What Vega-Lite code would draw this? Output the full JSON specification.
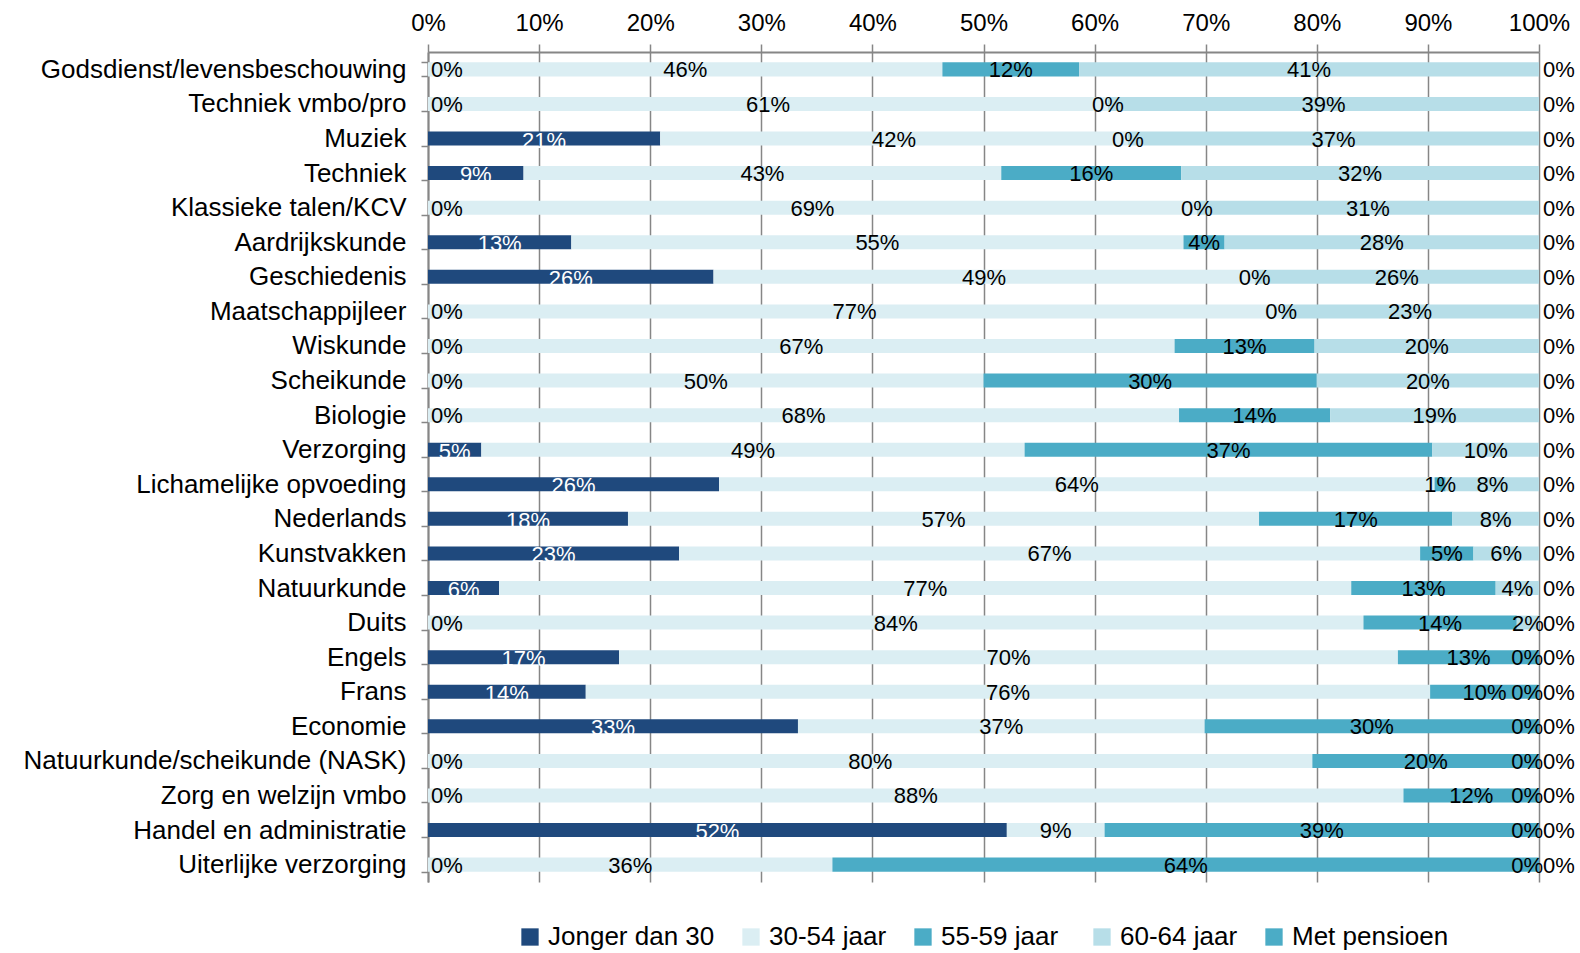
{
  "$schema": "https://vega.github.io/schema/vega-lite/v6.json",
  "autosize": {"type": "none"},
  "padding": {"left": 428, "top": 52, "right": 41, "bottom": 71},
  "width": 1111,
  "height": 830,
  "background": "white",
  "config": {
    "view": {"stroke": null},
    "font": "Liberation Sans",
    "text": {"font": "Liberation Sans"}
  },
  "data": {
    "values": [
      {"c": "Godsdienst/levensbeschouwing", "s": "Jonger dan 30", "v": 0},
      {"c": "Godsdienst/levensbeschouwing", "s": "30-54 jaar", "v": 46.3},
      {"c": "Godsdienst/levensbeschouwing", "s": "55-59  jaar", "v": 12.3},
      {"c": "Godsdienst/levensbeschouwing", "s": "60-64 jaar", "v": 41.4},
      {"c": "Godsdienst/levensbeschouwing", "s": "Met pensioen", "v": 0},
      {"c": "Techniek vmbo/pro", "s": "Jonger dan 30", "v": 0},
      {"c": "Techniek vmbo/pro", "s": "30-54 jaar", "v": 61.2},
      {"c": "Techniek vmbo/pro", "s": "55-59  jaar", "v": 0},
      {"c": "Techniek vmbo/pro", "s": "60-64 jaar", "v": 38.8},
      {"c": "Techniek vmbo/pro", "s": "Met pensioen", "v": 0},
      {"c": "Muziek", "s": "Jonger dan 30", "v": 20.9},
      {"c": "Muziek", "s": "30-54 jaar", "v": 42.1},
      {"c": "Muziek", "s": "55-59  jaar", "v": 0},
      {"c": "Muziek", "s": "60-64 jaar", "v": 37.0},
      {"c": "Muziek", "s": "Met pensioen", "v": 0},
      {"c": "Techniek", "s": "Jonger dan 30", "v": 8.6},
      {"c": "Techniek", "s": "30-54 jaar", "v": 43.0},
      {"c": "Techniek", "s": "55-59  jaar", "v": 16.2},
      {"c": "Techniek", "s": "60-64 jaar", "v": 32.2},
      {"c": "Techniek", "s": "Met pensioen", "v": 0},
      {"c": "Klassieke talen/KCV", "s": "Jonger dan 30", "v": 0},
      {"c": "Klassieke talen/KCV", "s": "30-54 jaar", "v": 69.2},
      {"c": "Klassieke talen/KCV", "s": "55-59  jaar", "v": 0},
      {"c": "Klassieke talen/KCV", "s": "60-64 jaar", "v": 30.8},
      {"c": "Klassieke talen/KCV", "s": "Met pensioen", "v": 0},
      {"c": "Aardrijkskunde", "s": "Jonger dan 30", "v": 12.9},
      {"c": "Aardrijkskunde", "s": "30-54 jaar", "v": 55.1},
      {"c": "Aardrijkskunde", "s": "55-59  jaar", "v": 3.7},
      {"c": "Aardrijkskunde", "s": "60-64 jaar", "v": 28.3},
      {"c": "Aardrijkskunde", "s": "Met pensioen", "v": 0},
      {"c": "Geschiedenis", "s": "Jonger dan 30", "v": 25.7},
      {"c": "Geschiedenis", "s": "30-54 jaar", "v": 48.7},
      {"c": "Geschiedenis", "s": "55-59  jaar", "v": 0},
      {"c": "Geschiedenis", "s": "60-64 jaar", "v": 25.6},
      {"c": "Geschiedenis", "s": "Met pensioen", "v": 0},
      {"c": "Maatschappijleer", "s": "Jonger dan 30", "v": 0},
      {"c": "Maatschappijleer", "s": "30-54 jaar", "v": 76.8},
      {"c": "Maatschappijleer", "s": "55-59  jaar", "v": 0},
      {"c": "Maatschappijleer", "s": "60-64 jaar", "v": 23.2},
      {"c": "Maatschappijleer", "s": "Met pensioen", "v": 0},
      {"c": "Wiskunde", "s": "Jonger dan 30", "v": 0},
      {"c": "Wiskunde", "s": "30-54 jaar", "v": 67.2},
      {"c": "Wiskunde", "s": "55-59  jaar", "v": 12.6},
      {"c": "Wiskunde", "s": "60-64 jaar", "v": 20.2},
      {"c": "Wiskunde", "s": "Met pensioen", "v": 0},
      {"c": "Scheikunde", "s": "Jonger dan 30", "v": 0},
      {"c": "Scheikunde", "s": "30-54 jaar", "v": 50.0},
      {"c": "Scheikunde", "s": "55-59  jaar", "v": 30.0},
      {"c": "Scheikunde", "s": "60-64 jaar", "v": 20.0},
      {"c": "Scheikunde", "s": "Met pensioen", "v": 0},
      {"c": "Biologie", "s": "Jonger dan 30", "v": 0},
      {"c": "Biologie", "s": "30-54 jaar", "v": 67.6},
      {"c": "Biologie", "s": "55-59  jaar", "v": 13.6},
      {"c": "Biologie", "s": "60-64 jaar", "v": 18.8},
      {"c": "Biologie", "s": "Met pensioen", "v": 0},
      {"c": "Verzorging", "s": "Jonger dan 30", "v": 4.8},
      {"c": "Verzorging", "s": "30-54 jaar", "v": 48.9},
      {"c": "Verzorging", "s": "55-59  jaar", "v": 36.7},
      {"c": "Verzorging", "s": "60-64 jaar", "v": 9.6},
      {"c": "Verzorging", "s": "Met pensioen", "v": 0},
      {"c": "Lichamelijke opvoeding", "s": "Jonger dan 30", "v": 26.2},
      {"c": "Lichamelijke opvoeding", "s": "30-54 jaar", "v": 64.4},
      {"c": "Lichamelijke opvoeding", "s": "55-59  jaar", "v": 1.0},
      {"c": "Lichamelijke opvoeding", "s": "60-64 jaar", "v": 8.4},
      {"c": "Lichamelijke opvoeding", "s": "Met pensioen", "v": 0},
      {"c": "Nederlands", "s": "Jonger dan 30", "v": 18.0},
      {"c": "Nederlands", "s": "30-54 jaar", "v": 56.8},
      {"c": "Nederlands", "s": "55-59  jaar", "v": 17.4},
      {"c": "Nederlands", "s": "60-64 jaar", "v": 7.8},
      {"c": "Nederlands", "s": "Met pensioen", "v": 0},
      {"c": "Kunstvakken", "s": "Jonger dan 30", "v": 22.6},
      {"c": "Kunstvakken", "s": "30-54 jaar", "v": 66.7},
      {"c": "Kunstvakken", "s": "55-59  jaar", "v": 4.8},
      {"c": "Kunstvakken", "s": "60-64 jaar", "v": 5.9},
      {"c": "Kunstvakken", "s": "Met pensioen", "v": 0},
      {"c": "Natuurkunde", "s": "Jonger dan 30", "v": 6.4},
      {"c": "Natuurkunde", "s": "30-54 jaar", "v": 76.7},
      {"c": "Natuurkunde", "s": "55-59  jaar", "v": 13.0},
      {"c": "Natuurkunde", "s": "60-64 jaar", "v": 3.9},
      {"c": "Natuurkunde", "s": "Met pensioen", "v": 0},
      {"c": "Duits", "s": "Jonger dan 30", "v": 0},
      {"c": "Duits", "s": "30-54 jaar", "v": 84.2},
      {"c": "Duits", "s": "55-59  jaar", "v": 13.8},
      {"c": "Duits", "s": "60-64 jaar", "v": 2.0},
      {"c": "Duits", "s": "Met pensioen", "v": 0},
      {"c": "Engels", "s": "Jonger dan 30", "v": 17.2},
      {"c": "Engels", "s": "30-54 jaar", "v": 70.1},
      {"c": "Engels", "s": "55-59  jaar", "v": 12.7},
      {"c": "Engels", "s": "60-64 jaar", "v": 0},
      {"c": "Engels", "s": "Met pensioen", "v": 0},
      {"c": "Frans", "s": "Jonger dan 30", "v": 14.2},
      {"c": "Frans", "s": "30-54 jaar", "v": 76.0},
      {"c": "Frans", "s": "55-59  jaar", "v": 9.8},
      {"c": "Frans", "s": "60-64 jaar", "v": 0},
      {"c": "Frans", "s": "Met pensioen", "v": 0},
      {"c": "Economie", "s": "Jonger dan 30", "v": 33.3},
      {"c": "Economie", "s": "30-54 jaar", "v": 36.6},
      {"c": "Economie", "s": "55-59  jaar", "v": 30.1},
      {"c": "Economie", "s": "60-64 jaar", "v": 0},
      {"c": "Economie", "s": "Met pensioen", "v": 0},
      {"c": "Natuurkunde/scheikunde  (NASK)", "s": "Jonger dan 30", "v": 0},
      {"c": "Natuurkunde/scheikunde  (NASK)", "s": "30-54 jaar", "v": 79.6},
      {"c": "Natuurkunde/scheikunde  (NASK)", "s": "55-59  jaar", "v": 20.4},
      {"c": "Natuurkunde/scheikunde  (NASK)", "s": "60-64 jaar", "v": 0},
      {"c": "Natuurkunde/scheikunde  (NASK)", "s": "Met pensioen", "v": 0},
      {"c": "Zorg en welzijn vmbo", "s": "Jonger dan 30", "v": 0},
      {"c": "Zorg en welzijn vmbo", "s": "30-54 jaar", "v": 87.8},
      {"c": "Zorg en welzijn vmbo", "s": "55-59  jaar", "v": 12.2},
      {"c": "Zorg en welzijn vmbo", "s": "60-64 jaar", "v": 0},
      {"c": "Zorg en welzijn vmbo", "s": "Met pensioen", "v": 0},
      {"c": "Handel en administratie", "s": "Jonger dan 30", "v": 52.1},
      {"c": "Handel en administratie", "s": "30-54 jaar", "v": 8.8},
      {"c": "Handel en administratie", "s": "55-59  jaar", "v": 39.1},
      {"c": "Handel en administratie", "s": "60-64 jaar", "v": 0},
      {"c": "Handel en administratie", "s": "Met pensioen", "v": 0},
      {"c": "Uiterlijke verzorging", "s": "Jonger dan 30", "v": 0},
      {"c": "Uiterlijke verzorging", "s": "30-54 jaar", "v": 36.4},
      {"c": "Uiterlijke verzorging", "s": "55-59  jaar", "v": 63.6},
      {"c": "Uiterlijke verzorging", "s": "60-64 jaar", "v": 0},
      {"c": "Uiterlijke verzorging", "s": "Met pensioen", "v": 0}
    ]
  },
  "transform": [
    {"calculate": "indexof(['Jonger dan 30','30-54 jaar','55-59  jaar','60-64 jaar','Met pensioen'], datum.s)", "as": "k"},
    {"stack": "v", "groupby": ["c"], "sort": [{"field": "k", "order": "ascending"}], "offset": "normalize", "as": ["v0", "v1"]},
    {"calculate": "(datum.v0 + datum.v1) / 2", "as": "mid"},
    {"calculate": "format(datum.v, '.0f') + '%'", "as": "lab"}
  ],
  "encoding": {
    "y": {
      "field": "c",
      "type": "nominal",
      "sort": ["Godsdienst/levensbeschouwing", "Techniek vmbo/pro", "Muziek", "Techniek", "Klassieke talen/KCV", "Aardrijkskunde", "Geschiedenis", "Maatschappijleer", "Wiskunde", "Scheikunde", "Biologie", "Verzorging", "Lichamelijke opvoeding", "Nederlands", "Kunstvakken", "Natuurkunde", "Duits", "Engels", "Frans", "Economie", "Natuurkunde/scheikunde  (NASK)", "Zorg en welzijn vmbo", "Handel en administratie", "Uiterlijke verzorging"],
      "scale": {"paddingInner": 0.595, "paddingOuter": 0.3},
      "axis": {
        "title": null,
        "orient": "left",
        "domainColor": "#868686",
        "domainWidth": 2,
        "ticks": true,
        "tickBand": "extent",
        "tickSize": 7,
        "tickColor": "#868686",
        "tickWidth": 1.5,
        "labelFont": "Liberation Sans",
        "labelFontSize": 26,
        "labelColor": "#000000",
        "labelPadding": 15,
        "labelLimit": 0,
        "grid": false
      }
    }
  },
  "layer": [
    {
      "mark": {"type": "bar"},
      "encoding": {
        "x": {
          "field": "v0",
          "type": "quantitative",
          "scale": {"domain": [0, 1], "nice": false, "zero": true},
          "axis": {
            "title": null,
            "orient": "top",
            "format": ".0%",
            "values": [0, 0.1, 0.2, 0.3, 0.4, 0.5, 0.6, 0.7, 0.8, 0.9, 1],
            "grid": true,
            "gridColor": "#868686",
            "gridWidth": 1.5,
            "gridOpacity": 1,
            "domainColor": "#868686",
            "domainWidth": 2,
            "tickColor": "#868686",
            "tickWidth": 1.5,
            "tickSize": 8,
            "labelFont": "Liberation Sans",
            "labelFontSize": 24,
            "labelColor": "#000000",
            "labelPadding": 9,
            "labelFlush": false
          }
        },
        "x2": {"field": "v1"},
        "color": {
          "field": "s",
          "type": "nominal",
          "scale": {
            "domain": ["Jonger dan 30", "30-54 jaar", "55-59  jaar", "60-64 jaar", "Met pensioen"],
            "range": ["#1F497D", "#DBEEF3", "#4BACC6", "#B7DEE8", "#4BACC6"]
          },
          "legend": {
            "title": null,
            "orient": "none",
            "direction": "horizontal",
            "legendX": 89,
            "legendY": 872,
            "symbolType": "square",
            "symbolSize": 300,
            "symbolStrokeWidth": 0,
            "symbolOpacity": 1,
            "labelFont": "Liberation Sans",
            "labelFontSize": 26,
            "labelColor": "#000000",
            "labelOffset": 5,
            "labelLimit": 0,
            "columnPadding": 23,
            "padding": 0
          }
        }
      }
    },
    {
      "transform": [{"filter": "datum.s === 'Jonger dan 30' && datum.v > 0"}],
      "mark": {"type": "text", "font": "Liberation Sans", "fontSize": 22, "color": "#FFFFFF", "align": "center", "baseline": "middle", "dy": 2},
      "encoding": {
        "x": {"field": "mid", "type": "quantitative"},
        "text": {"field": "lab"}
      }
    },
    {
      "transform": [{"filter": "datum.s === '30-54 jaar' || datum.s === '55-59  jaar' || (datum.s === '60-64 jaar' && datum.v > 0)"}],
      "mark": {"type": "text", "font": "Liberation Sans", "fontSize": 22, "color": "#000000", "align": "center", "baseline": "middle", "dy": 1},
      "encoding": {
        "x": {"field": "mid", "type": "quantitative"},
        "text": {"field": "lab"}
      }
    },
    {
      "transform": [{"filter": "datum.s === 'Jonger dan 30' && datum.v === 0"}],
      "mark": {"type": "text", "font": "Liberation Sans", "fontSize": 22, "color": "#000000", "align": "left", "baseline": "middle", "dx": 3, "dy": 1},
      "encoding": {
        "x": {"field": "v0", "type": "quantitative"},
        "text": {"field": "lab"}
      }
    },
    {
      "transform": [{"filter": "datum.s === 'Met pensioen'"}],
      "mark": {"type": "text", "font": "Liberation Sans", "fontSize": 22, "color": "#000000", "align": "left", "baseline": "middle", "dx": 4, "dy": 1},
      "encoding": {
        "x": {"field": "v1", "type": "quantitative"},
        "text": {"field": "lab"}
      }
    },
    {
      "transform": [{"filter": "datum.s === '60-64 jaar' && datum.v === 0"}],
      "mark": {"type": "text", "font": "Liberation Sans", "fontSize": 22, "color": "#000000", "align": "right", "baseline": "middle", "dx": 4, "dy": 1},
      "encoding": {
        "x": {"field": "v1", "type": "quantitative"},
        "text": {"field": "lab"}
      }
    }
  ]
}
